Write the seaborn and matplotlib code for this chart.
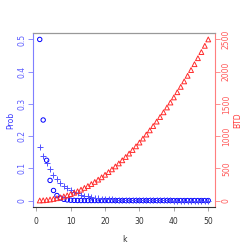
import matplotlib
matplotlib.use("Agg")
import matplotlib.pyplot as plt
import seaborn as sns
import pandas as pd

k = list(range(1, 51))
prob_circle = [0.5, 0.25, 0.125, 0.0625, 0.03125, 0.0156, 0.0078, 0.0039, 0.002, 0.001,
               0.0005, 0.0002, 0.0001, 0.0001, 0.0, 0.0, 0.0, 0.0, 0.0, 0.0,
               0.0, 0.0, 0.0, 0.0, 0.0, 0.0, 0.0, 0.0, 0.0, 0.0,
               0.0, 0.0, 0.0, 0.0, 0.0, 0.0, 0.0, 0.0, 0.0, 0.0,
               0.0, 0.0, 0.0, 0.0, 0.0, 0.0, 0.0, 0.0, 0.0, 0.0]
prob_plus = [0.1667, 0.1389, 0.1157, 0.0965, 0.0804, 0.0670, 0.0558, 0.0465, 0.0388, 0.0323,
             0.0269, 0.0224, 0.0187, 0.0156, 0.0130, 0.0108, 0.0090, 0.0075, 0.0063, 0.0052,
             0.0043, 0.0036, 0.0030, 0.0025, 0.0021, 0.0017, 0.0015, 0.0012, 0.0010, 0.0008,
             0.0007, 0.0006, 0.0005, 0.0004, 0.0003, 0.0003, 0.0002, 0.0002, 0.0002, 0.0001,
             0.0001, 0.0001, 0.0001, 0.0001, 0.0, 0.0, 0.0, 0.0, 0.0, 0.0]
btd = [1, 4, 9, 16, 25, 36, 49, 64, 81, 100,
       121, 144, 169, 196, 225, 256, 289, 324, 361, 400,
       441, 484, 529, 576, 625, 676, 729, 784, 841, 900,
       961, 1024, 1089, 1156, 1225, 1296, 1369, 1444, 1521, 1600,
       1681, 1764, 1849, 1936, 2025, 2116, 2209, 2304, 2401, 2500]
x_ticks = [0, 10, 20, 30, 40, 50]
left_ticks = [0, 0.1, 0.2, 0.3, 0.4, 0.5]
left_labels = ["0", "0.1", "0.2", "0.3", "0.4", "0.5"]
right_ticks = [0, 500, 1000, 1500, 2000, 2500]

df = pd.DataFrame({"k": k, "circle": prob_circle, "plus": prob_plus, "btd": btd})

sns.set_style("white")
plt.rcParams['font.family'] = ['DejaVu Sans']
fig = plt.figure(figsize=(2.49, 2.49), dpi=100)
ax = fig.add_axes([33/249, 1-207/249, (215-33)/249, (207-33)/249])
ax2 = ax.twinx()

blue_l = "#7f7fff"
red_l = "#ff7f7f"

sns.scatterplot(data=df, x="k", y="circle", ax=ax, marker="o", s=10,
                facecolor="none", edgecolor="#0000ff", linewidth=0.7, legend=False)
sns.scatterplot(data=df, x="k", y="plus", ax=ax, marker="+", s=22,
                color="#5050ff", linewidth=0.7, legend=False)
sns.scatterplot(data=df, x="k", y="btd", ax=ax2, marker="^", s=12,
                facecolor="none", edgecolor="#ff2a2a", linewidth=0.7, legend=False)

ax.set_xlim(1 - 1.96, 50 + 1.96)
ax.set_ylim(-0.02, 0.52)
ax2.set_ylim(-100, 2600)

for a in (ax, ax2):
    for s in a.spines.values():
        s.set_visible(False)
ax2.spines["left"].set_visible(True)
ax2.spines["left"].set_color(blue_l)
ax2.spines["left"].set_linewidth(0.8)
ax2.spines["bottom"].set_visible(True)
ax2.spines["bottom"].set_color("#333333")
ax2.spines["bottom"].set_linewidth(0.8)
ax2.spines["top"].set_visible(True)
ax2.spines["top"].set_color("#999999")
ax2.spines["top"].set_linewidth(0.9)
ax2.spines["right"].set_visible(True)
ax2.spines["right"].set_color(red_l)
ax2.spines["right"].set_linewidth(0.8)

ax.set_xticks(x_ticks)
ax.set_xticklabels([str(t) for t in x_ticks], fontsize=5.5, color="#333333")
ax.tick_params(axis="x", length=3, width=0.6, color="#999999", pad=4.5, bottom=True)
ax.set_yticks(left_ticks)
ax.set_yticklabels(left_labels, fontsize=5.5, color="#5a5aff", rotation=90, va="center")
ax.tick_params(axis="y", length=3.5, width=0.6, color=blue_l, pad=1.5, left=True)
ax2.set_yticks(right_ticks)
ax2.set_yticklabels([str(t) for t in right_ticks], fontsize=5.5, color="#ff5a5a",
                    rotation=90, va="center")
ax2.tick_params(axis="y", length=3.5, width=0.6, color=red_l, pad=1.5, right=True)

ax.set_xlabel("k", fontsize=5.5, color="#333333", labelpad=6)
ax.set_ylabel("Prob", fontsize=5.5, color="#3a3aff", labelpad=1)
ax2.set_ylabel("BTD", fontsize=5.5, color="#ff3a3a", labelpad=1.5)

fig.savefig("out.png", dpi=100)
